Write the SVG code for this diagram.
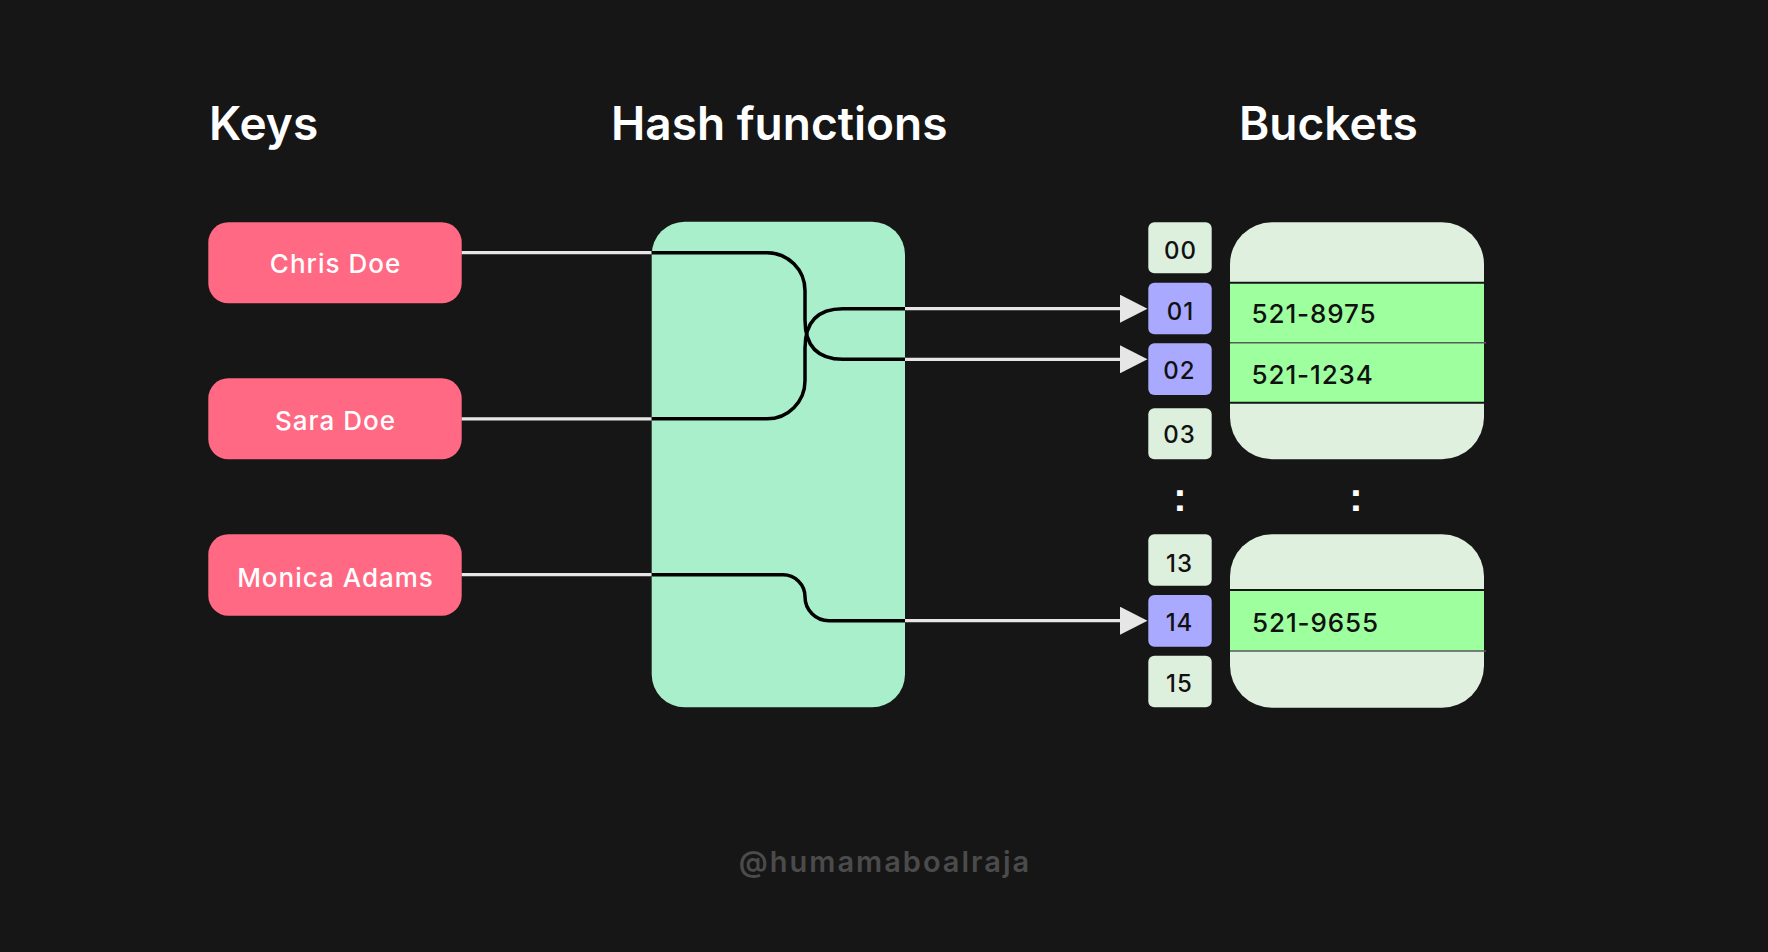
<svg xmlns="http://www.w3.org/2000/svg" width="1768" height="952" viewBox="0 0 1768 952">
  <style>
    .title { font-family: Inter, "Liberation Sans", sans-serif; font-size: 46px; font-weight: 600; fill: #ffffff; }
    .key { fill: #ff6984; }
    .keytxt { font-family: Inter, "Liberation Sans", sans-serif; font-size: 26px; font-weight: 500; fill: #ffffff; text-anchor: middle; letter-spacing: 1px; }
    .idx { fill: #ddefdd; }
    .idxon { fill: #a9a9ff; }
    .idxtxt { font-family: Inter, "Liberation Sans", sans-serif; font-size: 24px; font-weight: 500; fill: #111111; text-anchor: middle; letter-spacing: 1px; }
    .bucket { fill: #dff0de; }
    .row { fill: #9dff9d; }
    .sep { stroke: #151515; stroke-width: 2; }
    .sep2 { stroke: #5a5a5a; stroke-width: 1.5; }
    .val { font-family: Inter, "Liberation Sans", sans-serif; font-size: 26px; font-weight: 500; fill: #111111; letter-spacing: 0.9px; }
    .dots { font-family: "Liberation Sans", Arial, sans-serif; font-size: 40px; font-weight: 700; fill: #ffffff; text-anchor: middle; }
    .gray { fill: none; stroke: #e6e6e6; stroke-width: 3.3; }
    .black { fill: none; stroke: #000000; stroke-width: 3.5; }
  </style>
  <defs>
    <marker id="arrow" markerUnits="userSpaceOnUse" markerWidth="28" markerHeight="28" refX="0" refY="14" orient="auto" viewBox="0 0 28 28">
      <path d="M0,0 L27.5,14 L0,28 z" fill="#e6e6e6"/>
    </marker>
  </defs>
  <rect x="0" y="0" width="1768" height="952" fill="#161616"/>

  <g id="titles">
    <text class="title" x="209" y="140">Keys</text>
    <text class="title" x="611" y="140">Hash functions</text>
    <text class="title" x="1239" y="140">Buckets</text>
  </g>

  <g id="key-chris">
    <rect class="key" x="208.3" y="222.3" width="253.4" height="81" rx="20"/>
    <text class="keytxt" x="335.5" y="273">Chris Doe</text>
  </g>
  <g id="key-sara">
    <rect class="key" x="208.3" y="378.3" width="253.4" height="81" rx="20"/>
    <text class="keytxt" x="335.5" y="430">Sara Doe</text>
  </g>
  <g id="key-monica">
    <rect class="key" x="208.3" y="534.3" width="253.4" height="81.4" rx="20"/>
    <text class="keytxt" x="335.5" y="586.5">Monica Adams</text>
  </g>

  <g id="hash">
    <rect x="651.7" y="221.7" width="253.3" height="485.6" rx="33" fill="#aaefcc"/>
  </g>

  <g id="index">
    <rect class="idx" x="1148.3" y="222.3" width="63.4" height="51" rx="6"/>
    <text class="idxtxt" x="1180.5" y="259.3">00</text>
    <rect class="idxon" x="1148.3" y="282.7" width="63.4" height="51.6" rx="6"/>
    <text class="idxtxt" x="1180.5" y="320">01</text>
    <rect class="idxon" x="1148.3" y="343.3" width="63.4" height="51.7" rx="6"/>
    <text class="idxtxt" x="1179.5" y="379.3">02</text>
    <rect class="idx" x="1148.3" y="408.3" width="63.4" height="51" rx="6"/>
    <text class="idxtxt" x="1179.5" y="443.3">03</text>
    <text class="dots" x="1180" y="510.5">:</text>
    <rect class="idx" x="1148.3" y="534.3" width="63.4" height="51.4" rx="6"/>
    <text class="idxtxt" x="1179.5" y="571.7">13</text>
    <rect class="idxon" x="1148.3" y="595" width="63.4" height="51.7" rx="6"/>
    <text class="idxtxt" x="1179.5" y="631">14</text>
    <rect class="idx" x="1148.3" y="655.7" width="63.4" height="51.6" rx="6"/>
    <text class="idxtxt" x="1179.5" y="692.3">15</text>
  </g>

  <g id="bucket-1">
    <rect class="bucket" x="1230" y="222.3" width="254" height="237" rx="42"/>
    <rect class="row" x="1230" y="282.7" width="254" height="120"/>
    <line class="sep" x1="1230" y1="282.7" x2="1486" y2="282.7"/>
    <line class="sep2" x1="1230" y1="342.7" x2="1486" y2="342.7"/>
    <line class="sep" x1="1230" y1="402.7" x2="1486" y2="402.7"/>
    <text class="val" x="1251.5" y="323.3">521-8975</text>
    <text class="val" x="1251.5" y="384">521-1234</text>
  </g>
  <g id="bucket-dots">
    <text class="dots" x="1356" y="510.5">:</text>
  </g>
  <g id="bucket-2">
    <rect class="bucket" x="1230" y="534.3" width="254" height="173.4" rx="42"/>
    <rect class="row" x="1230" y="590" width="254" height="61"/>
    <line class="sep" x1="1230" y1="590" x2="1486" y2="590"/>
    <line class="sep2" x1="1230" y1="651" x2="1486" y2="651"/>
    <text class="val" x="1252" y="631.7">521-9655</text>
  </g>

  <g id="connectors">
    <line class="gray" x1="461.7" y1="252.7" x2="651.7" y2="252.7"/>
    <line class="gray" x1="461.7" y1="418.8" x2="651.7" y2="418.8"/>
    <line class="gray" x1="461.7" y1="574.7" x2="651.7" y2="574.7"/>
    <path class="black" d="M651.7,252.7 H767 A38,38 0 0 1 805,290.7 V320 C805,346 818,359.3 843,359.3 H905"/>
    <path class="black" d="M651.7,418.8 H767 A38,38 0 0 0 805,380.8 V348 C805,322 818,308.7 843,308.7 H905"/>
    <path class="black" d="M651.7,574.7 H783 A22,22 0 0 1 805,596.7 A24,24 0 0 0 829,620.7 H905"/>
    <line class="gray" x1="905" y1="308.7" x2="1120" y2="308.7" marker-end="url(#arrow)"/>
    <line class="gray" x1="905" y1="359.3" x2="1120" y2="359.3" marker-end="url(#arrow)"/>
    <line class="gray" x1="905" y1="620.7" x2="1120" y2="620.7" marker-end="url(#arrow)"/>
  </g>

  <g id="watermark">
    <text x="885" y="872" font-family="Inter, 'Liberation Sans', sans-serif" font-size="29" font-weight="600" fill="#4b4b4b" text-anchor="middle" letter-spacing="2">@humamaboalraja</text>
  </g>
</svg>
